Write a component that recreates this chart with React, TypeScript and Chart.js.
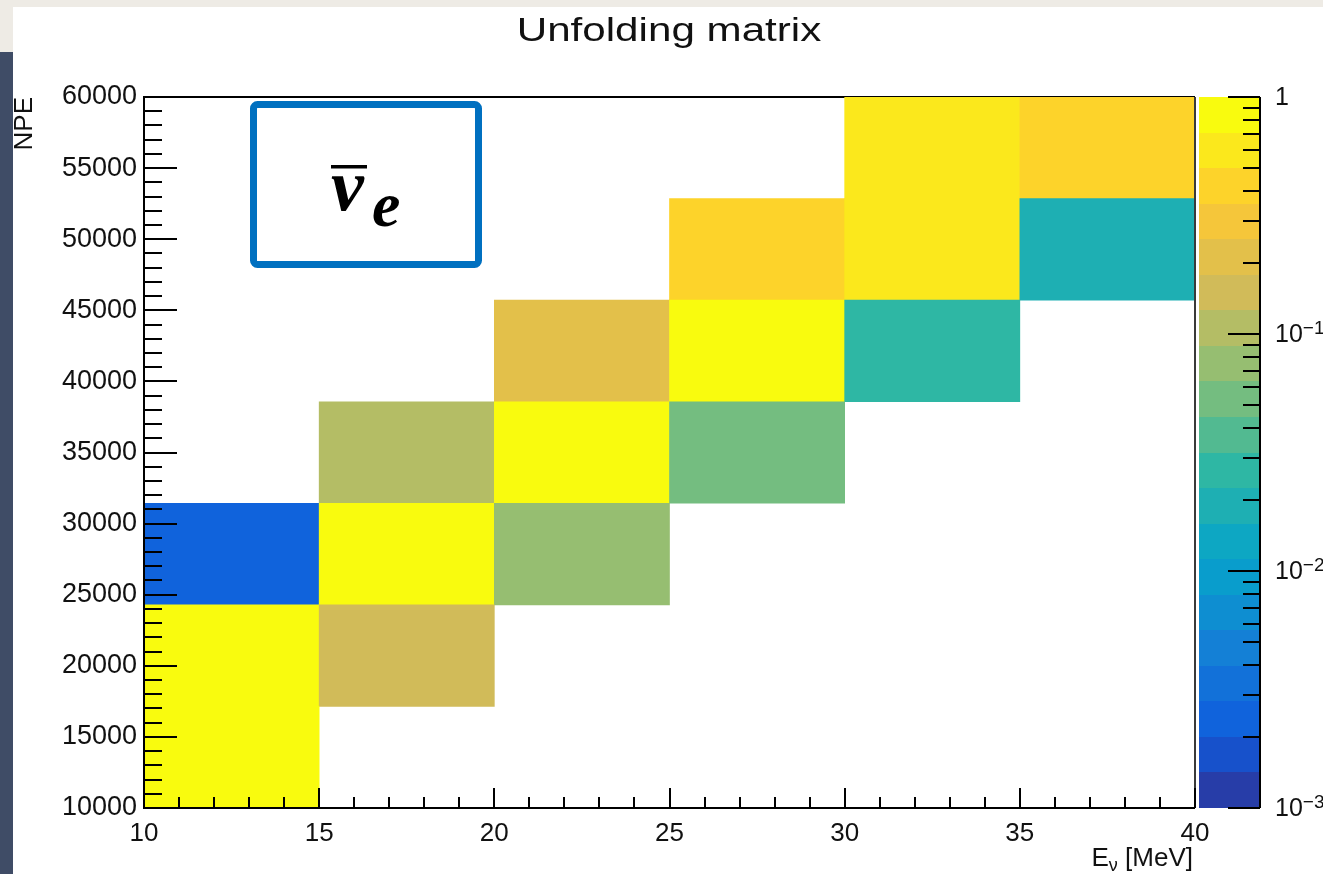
import React, { useEffect, useRef } from 'react';
import { Chart, registerables } from 'chart.js';

Chart.register(...registerables);

// ---------- data ----------
const chartTitle = 'Unfolding matrix';
const xTitleMain = 'E';
const xTitleSub = 'ν';
const xTitleUnit = ' [MeV]';
const yTitle = 'NPE';

// bin edges
const xEdges = [10, 15, 20, 25, 30, 35, 40];
const yEdges = [10000, 17143, 24286, 31429, 38571, 45714, 52857, 60000];

// matrix content, one array per NPE bin (bottom to top), one value per E bin (left to right)
const npeBin1 = [0.85, 0, 0, 0, 0, 0];
const npeBin2 = [0.8, 0.15, 0, 0, 0, 0];
const npeBin3 = [0.0024, 0.84, 0.075, 0, 0, 0];
const npeBin4 = [0, 0.106, 0.84, 0.053, 0, 0];
const npeBin5 = [0, 0, 0.21, 0.84, 0.027, 0];
const npeBin6 = [0, 0, 0, 0.42, 0.6, 0.019];
const npeBin7 = [0, 0, 0, 0, 0.6, 0.42];
const matrixRows = [npeBin1, npeBin2, npeBin3, npeBin4, npeBin5, npeBin6, npeBin7];

// axis ticks
const xTicks = [10, 15, 20, 25, 30, 35, 40];
const xTickLabels = ['10', '15', '20', '25', '30', '35', '40'];
const xMinorStep = 1;
const yTicks = [10000, 15000, 20000, 25000, 30000, 35000, 40000, 45000, 50000, 55000, 60000];
const yTickLabels = ['10000', '15000', '20000', '25000', '30000', '35000', '40000', '45000', '50000', '55000', '60000'];
const yMinorStep = 1000;

// colour axis
const zMin = 0.001;
const zMax = 1;
const nContours = 20;
const zDecades = [0.001, 0.01, 0.1, 1];
const zLabelBase = ['10', '10', '10', '1'];
const zLabelExp = ['−3', '−2', '−1', ''];

// ROOT kBird palette
const birdStops = [0.0, 0.125, 0.25, 0.375, 0.5, 0.625, 0.75, 0.875, 1.0];
const birdRed = [0.2082, 0.0592, 0.078, 0.0232, 0.1802, 0.5301, 0.8186, 0.9956, 0.9764];
const birdGreen = [0.1664, 0.3599, 0.5041, 0.6419, 0.7178, 0.7492, 0.7328, 0.7862, 0.9832];
const birdBlue = [0.5293, 0.8684, 0.8385, 0.7914, 0.6425, 0.4662, 0.3499, 0.1968, 0.0539];

const FONT = '"Liberation Sans", Arial, Helvetica, sans-serif';

function paletteColor(f: number): string {
  const t = Math.max(0, Math.min(1, f));
  let k = 0;
  while (k < birdStops.length - 2 && t > birdStops[k + 1]) k++;
  const u = (t - birdStops[k]) / (birdStops[k + 1] - birdStops[k]);
  const c = (arr: number[]) => Math.round(255 * (arr[k] + (arr[k + 1] - arr[k]) * u));
  return `rgb(${c(birdRed)},${c(birdGreen)},${c(birdBlue)})`;
}

function levelColor(i: number): string {
  const idx = Math.floor(((i + 0.99) * 255) / nContours);
  return paletteColor(idx / 254);
}

function levelOf(v: number): number {
  const lmin = Math.log10(zMin);
  const step = (Math.log10(zMax) - lmin) / nContours;
  const i = Math.floor((Math.log10(v) - lmin) / step);
  return Math.max(0, Math.min(nContours - 1, i));
}

function valueColor(v: number): string {
  return levelColor(levelOf(v));
}

// datasets built from the arrays above
const datasets = matrixRows.map((row, r) => {
  const pts: any[] = [];
  const cols: string[] = [];
  row.forEach((v, c) => {
    if (v > 0) {
      pts.push({ x: (xEdges[c] + xEdges[c + 1]) / 2, y: [yEdges[r], yEdges[r + 1]], v });
      cols.push(valueColor(v));
    }
  });
  return {
    label: `NPE bin ${r + 1}`,
    data: pts,
    backgroundColor: cols,
    borderWidth: 0,
    borderSkipped: false,
    grouped: false,
    barPercentage: 1,
    categoryPercentage: 1,
  };
});

// ---------- plugins ----------
const rootStylePlugin = {
  id: 'rootStyle',
  beforeDatasetsDraw(chart: any) {
    const { ctx, chartArea: a } = chart;
    ctx.save();
    ctx.strokeStyle = '#000';
    ctx.lineWidth = 2;
    ctx.beginPath();
    ctx.moveTo(a.left, a.top);
    ctx.lineTo(a.right, a.top);
    ctx.stroke();
    ctx.restore();
  },
  afterDatasetsDraw(chart: any) {
    const { ctx, chartArea: a, scales } = chart;
    const xs = scales.x;
    const ys = scales.y;
    ctx.save();
    ctx.lineWidth = 2;
    ctx.strokeStyle = '#3a3a3a';
    ctx.beginPath();
    ctx.moveTo(a.right, a.top);
    ctx.lineTo(a.right, a.bottom);
    ctx.stroke();
    ctx.strokeStyle = '#000';
    ctx.beginPath();
    ctx.moveTo(a.left, a.top - 1);
    ctx.lineTo(a.left, a.bottom);
    ctx.lineTo(a.right, a.bottom);
    ctx.stroke();
    // y ticks (inside)
    ctx.beginPath();
    for (let v = yTicks[0]; v <= yTicks[yTicks.length - 1]; v += yMinorStep) {
      const p = Math.round(ys.getPixelForValue(v));
      const len = yTicks.includes(v) ? 33 : 18;
      ctx.moveTo(a.left, p);
      ctx.lineTo(a.left + len, p);
    }
    // x ticks (inside)
    for (let v = xTicks[0]; v <= xTicks[xTicks.length - 1]; v += xMinorStep) {
      const p = Math.round(xs.getPixelForValue(v));
      const len = xTicks.includes(v) ? 20 : 11;
      ctx.moveTo(p, a.bottom);
      ctx.lineTo(p, a.bottom - len);
    }
    ctx.stroke();
    ctx.restore();
  },
  afterDraw(chart: any) {
    const { ctx, chartArea: a, scales } = chart;
    const z = scales.z;
    ctx.save();

    // ---- colour bar ----
    const bx0 = a.right + 4;
    const bx1 = a.right + 65;
    const lmin = Math.log10(zMin);
    const step = (Math.log10(zMax) - lmin) / nContours;
    for (let i = 0; i < nContours; i++) {
      const lo = Math.pow(10, lmin + step * i);
      const hi = Math.pow(10, lmin + step * (i + 1));
      const y0 = Math.round(z.getPixelForValue(hi));
      const y1 = Math.round(z.getPixelForValue(lo));
      ctx.fillStyle = levelColor(i);
      ctx.fillRect(bx0, y0, bx1 - bx0, y1 - y0);
    }
    ctx.strokeStyle = '#000';
    ctx.lineWidth = 2;
    ctx.beginPath();
    ctx.moveTo(bx1, a.top);
    ctx.lineTo(bx1, a.bottom);
    for (let d = 0; d < zDecades.length; d++) {
      const p = Math.round(z.getPixelForValue(zDecades[d]));
      ctx.moveTo(bx1, p);
      ctx.lineTo(bx1 - 32, p);
      if (d < zDecades.length - 1) {
        for (let k = 2; k <= 9; k++) {
          const q = Math.round(z.getPixelForValue(zDecades[d] * k));
          ctx.moveTo(bx1, q);
          ctx.lineTo(bx1 - 17, q);
        }
      }
    }
    ctx.stroke();

    // colour bar labels
    ctx.fillStyle = '#111';
    for (let d = 0; d < zDecades.length; d++) {
      const p = z.getPixelForValue(zDecades[d]);
      const lx = bx1 + 15;
      ctx.font = `25px ${FONT}`;
      ctx.textAlign = 'left';
      ctx.textBaseline = 'middle';
      ctx.fillText(zLabelBase[d], lx, p + 1);
      if (zLabelExp[d]) {
        const w = ctx.measureText(zLabelBase[d]).width;
        ctx.font = `19px ${FONT}`;
        ctx.textBaseline = 'alphabetic';
        ctx.fillText(zLabelExp[d], lx + w, p);
      }
    }

    // ---- main title ----
    ctx.fillStyle = '#111';
    ctx.save();
    ctx.font = `34px ${FONT}`;
    ctx.textAlign = 'center';
    ctx.textBaseline = 'alphabetic';
    ctx.translate(chart.width / 2 + 1, 34);
    ctx.scale(1.24, 1);
    ctx.fillText(chartTitle, 0, 0);
    ctx.restore();

    // ---- x title: E_nu [MeV] ----
    ctx.textBaseline = 'alphabetic';
    ctx.textAlign = 'left';
    ctx.font = `26px ${FONT}`;
    const wE = ctx.measureText(xTitleMain).width;
    const wU = ctx.measureText(xTitleUnit).width;
    ctx.font = `18px ${FONT}`;
    const wN = ctx.measureText(xTitleSub).width;
    const xRight = a.right - 2;
    const xStart = xRight - (wE + wN + wU);
    const yBase = a.bottom + 58;
    ctx.font = `26px ${FONT}`;
    ctx.fillText(xTitleMain, xStart, yBase);
    ctx.font = `18px ${FONT}`;
    ctx.fillText(xTitleSub, xStart + wE, yBase + 5);
    ctx.font = `26px ${FONT}`;
    ctx.fillText(xTitleUnit, xStart + wE + wN, yBase);

    // ---- y title ----
    ctx.save();
    ctx.font = `26px ${FONT}`;
    ctx.translate(19, a.top);
    ctx.rotate(-Math.PI / 2);
    ctx.textAlign = 'right';
    ctx.textBaseline = 'alphabetic';
    ctx.fillText(yTitle, 0, 0);
    ctx.restore();

    // ---- anti-electron-neutrino label box ----
    ctx.save();
    ctx.strokeStyle = '#0070c0';
    ctx.lineWidth = 7;
    ctx.beginPath();
    (ctx as any).roundRect(240.5, 97.5, 225, 160, 4);
    ctx.stroke();
    ctx.fillStyle = '#000';
    ctx.textAlign = 'left';
    ctx.textBaseline = 'alphabetic';
    ctx.font = 'bold italic 74px "Liberation Serif", "DejaVu Serif", serif';
    ctx.fillText('ν', 318, 203);
    ctx.fillRect(318, 158, 36, 3.5);
    ctx.font = 'bold italic 64px "Liberation Serif", "DejaVu Serif", serif';
    ctx.fillText('e', 359, 219);
    ctx.restore();

    ctx.restore();
  },
};

export default function App() {
  const canvasRef = useRef<HTMLCanvasElement>(null);

  useEffect(() => {
    document.body.style.margin = '0';
    const canvas = canvasRef.current;
    if (!canvas) return;
    const chart = new Chart(canvas, {
      type: 'bar',
      data: { datasets: datasets as any },
      options: {
        animation: false,
        responsive: false,
        maintainAspectRatio: false,
        devicePixelRatio: 1,
        layout: { padding: { top: 90, right: 128, bottom: 0, left: 0 } },
        plugins: {
          legend: { display: false },
          tooltip: { enabled: false },
          title: { display: false },
        },
        scales: {
          x: {
            type: 'linear',
            min: xEdges[0],
            max: xEdges[xEdges.length - 1],
            offset: false,
            grid: { display: false, drawTicks: false, offset: false },
            border: { display: false },
            afterBuildTicks: (s: any) => {
              s.ticks = xTicks.map((v) => ({ value: v }));
            },
            afterFit: (s: any) => {
              s.height = 66;
            },
            ticks: {
              autoSkip: false,
              maxRotation: 0,
              padding: 10,
              color: '#111',
              font: { family: FONT, size: 26 },
              callback: (v: any) => {
                const i = xTicks.indexOf(Number(v));
                return i >= 0 ? xTickLabels[i] : '';
              },
            },
          },
          y: {
            type: 'linear',
            min: yEdges[0],
            max: yEdges[yEdges.length - 1],
            grid: { display: false, drawTicks: false },
            border: { display: false },
            afterBuildTicks: (s: any) => {
              s.ticks = yTicks.map((v) => ({ value: v }));
            },
            afterFit: (s: any) => {
              s.width = 131;
            },
            ticks: {
              autoSkip: false,
              padding: 7,
              color: '#111',
              font: { family: FONT, size: 27 },
              callback: (v: any) => {
                const i = yTicks.indexOf(Number(v));
                return i >= 0 ? yTickLabels[i] : '';
              },
            },
          },
          z: {
            type: 'logarithmic',
            axis: 'y',
            position: 'right',
            min: zMin,
            max: zMax,
            display: false,
          },
        },
      },
      plugins: [rootStylePlugin],
    });
    return () => chart.destroy();
  }, []);

  return (
    <div style={{ position: 'relative', width: 1323, height: 874, background: '#eeebe5', overflow: 'hidden' }}>
      <div style={{ position: 'absolute', left: 0, top: 52, width: 13, height: 822, background: '#3f4c66' }} />
      <div style={{ position: 'absolute', left: 13, top: 7, width: 1310, height: 867, background: '#ffffff' }}>
        <canvas ref={canvasRef} width={1310} height={867} style={{ display: 'block' }} />
      </div>
    </div>
  );
}
